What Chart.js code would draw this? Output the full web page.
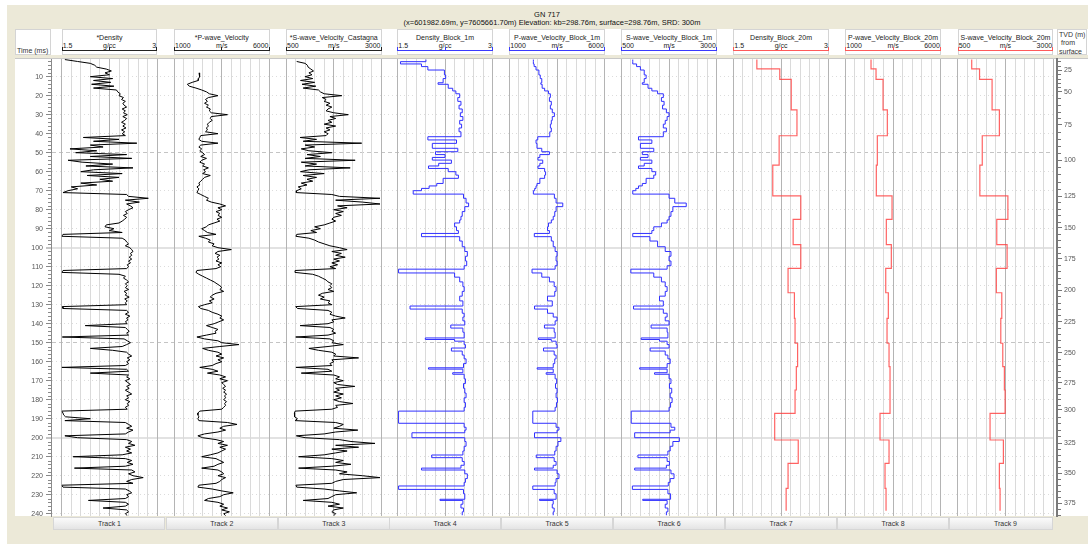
<!DOCTYPE html>
<html>
<head>
<meta charset="utf-8">
<script src="https://cdn.jsdelivr.net/npm/chart.js@4.4.0/dist/chart.umd.min.js"></script>
<style>
  body { margin: 0; width: 1088px; height: 544px; background: #fff; overflow: hidden;
         font-family: "Liberation Sans", Arial, sans-serif; }
  .abs { position: absolute; box-sizing: border-box; }
  .txt { position: absolute; font-size: 7px; line-height: 8px; color: #222; white-space: nowrap; }
  canvas { position: absolute; }
</style>
</head>
<body>
<script>
// ---- data ----
const T_MIN = 0.7, T_MAX = 241.2;
const timeTicks = [10, 20, 30, 40, 50, 60, 70, 80, 90, 100, 110, 120, 130, 140, 150, 160, 170, 180, 190, 200, 210, 220, 230, 240];
const tvdLabels = [25, 50, 75, 100, 125, 150, 175, 200, 225, 250, 275, 300, 325, 350, 375];
const tvdTimes = [6.5, 17.9, 35.4, 53.9, 72.8, 89.6, 105.9, 122.3, 139.0, 155.3, 171.1, 185.4, 202.8, 218.6, 234.5];

// raw logs, one sample per ms from 1 to 241 ms
const rawTimes = [];
for (let t = 1; t <= 241; t++) rawTimes.push(t);

const rawDensity = [
  1.55, 1.75, 1.95, 2.02, 2.05, 2.2, 2.28, 2.18, 2.25, 1.95,
  2.3, 2.0, 2.27, 1.97, 2.32, 2.0, 2.36, 2.38, 2.42, 2.4,
  2.47, 2.44, 2.5, 2.46, 2.48, 2.52, 2.45, 2.5, 2.47, 2.53,
  2.46, 2.52, 2.49, 2.44, 2.5, 2.46, 2.51, 2.44, 2.49, 2.45,
  2.5, 1.84, 2.4, 2.0, 2.68, 1.95, 2.15, 1.63, 2.05, 1.72,
  2.52, 1.95, 2.6, 1.6, 1.82, 2.3, 1.88, 2.62, 2.0, 1.8,
  2.45, 1.9, 2.4, 2.1, 2.3, 1.8, 2.05, 1.65, 1.75, 1.6,
  1.52, 2.52, 2.55, 2.86, 2.5, 2.72, 2.52, 2.58, 2.62, 2.55,
  2.5, 2.53, 2.47, 2.52, 2.49, 2.45, 2.4, 2.2, 2.18, 2.32,
  2.25, 2.45, 1.52, 1.5, 2.45, 2.5, 2.52, 2.55, 2.5, 2.57,
  2.6, 2.62, 2.58, 2.6, 2.56, 2.6, 2.55, 2.58, 2.53, 2.55,
  2.52, 1.52, 1.5, 2.4, 2.5, 2.47, 2.52, 2.55, 2.5, 2.53,
  2.5, 2.55, 2.48, 2.52, 2.5, 2.56, 2.49, 2.53, 2.5, 2.52,
  1.51, 1.52, 2.52, 2.55, 2.5, 2.57, 2.52, 2.54, 2.5, 2.53,
  1.87, 2.5, 2.53, 2.56, 2.52, 2.55, 1.51, 2.48, 2.53, 2.58,
  2.52, 2.45, 1.95, 2.3, 2.52, 2.55, 2.6, 2.53, 2.57, 2.52,
  2.55, 2.5, 1.5, 2.52, 2.55, 1.95, 2.55, 2.52, 2.57, 2.5,
  2.54, 2.58, 2.52, 2.56, 2.5, 2.55, 2.6, 2.52, 2.55, 2.5,
  2.57, 2.53, 2.55, 2.5, 2.53, 1.5, 1.52, 1.53, 1.56, 1.95,
  1.55, 2.5, 2.55, 2.6, 2.52, 2.62, 2.55, 2.5, 1.55, 1.75,
  2.52, 2.6, 2.55, 2.65, 2.5, 2.58, 2.52, 2.6, 2.45, 1.68,
  2.5, 2.6, 2.53, 2.62, 2.5, 1.7, 2.6, 2.65, 2.55, 2.62,
  2.78, 2.6, 2.52, 2.62, 1.5, 1.52, 2.5, 2.56, 2.6, 2.52,
  2.55, 2.5, 1.92, 2.5, 2.55, 2.5, 2.15, 2.52, 2.55, 2.5,
  2.53
];

const rawPwave = [
  null, null, null, null, null, null, null, 2311, 2330, 2350,
  2290, 2270, 1950, 1700, 1800, 2150, 2450, 2700, 2850, 3300,
  2800, 2650, 2750, 2600, 2800, 2700, 2900, 2850, 2950, 3800,
  2950, 2900, 3000, 2850, 2750, 2800, 2700, 2750, 2650, 3300,
  2400, 2350, 2300, 2450, 3300, 2400, 2300, 2450, 2350, 2500,
  2600, 2400, 2700, 2450, 2350, 2600, 2500, 2800, 2550, 2650,
  2500, 2900, 2600, 2500, 2400, 2300, 2350, 2200, 2300, 2250,
  2200, 2400, 2600, 2800, 2700, 2950, 3400, 3700, 3300, 3500,
  3200, 3400, 3300, 3500, 3250, 3400, 3100, 2800, 2700, 2450,
  2600, 2750, 3200, 2300, 2650, 2900, 2800, 3100, 3000, 3300,
  4000, 3300, 3150, 3400, 3250, 3350, 3200, 3500, 3300, 3450,
  3200, 2200, 2150, 2300, 2500, 2700, 2900, 3100, 3250, 3400,
  3500, 3400, 3600, 3200, 3000, 2900, 3100, 2850, 3000, 2600,
  2280, 2400, 2800, 3000, 3300, 3500, 3400, 3600, 3350, 3100,
  2700, 3000, 3300, 3150, 3200, 2700, 2200, 2600, 3300, 3500,
  4400, 3400, 2500, 2800, 3300, 3500, 3200, 3600, 3300, 3500,
  3200, 3000, 2350, 3000, 3300, 2750, 3400, 3700, 3400, 3800,
  3500, 3600, 3700, 3550, 3700, 3600, 3750, 3650, 3700, 3600,
  3750, 3650, 3700, 3600, 3500, 2350, 2250, 2250, 2300, 2250,
  2300, 3800, 4300, 3600, 3400, 3700, 3300, 2600, 2250, 2500,
  3200, 3600, 3300, 3800, 3400, 3700, 3500, 3300, 2900, 2450,
  3200, 3400, 3600, 3300, 3100, 2450, 3300, 3500, 3600, 3300,
  3700, 3500, 3400, 3200, 2300, 2250, 3000, 3500, 4100, 3600,
  3400, 2800, 2600, 3300, 3600, 3400, 3800, 3500, 3900, 3600,
  3700
];

const rawSwave = [
  null, 780, 1000, 1060, 1080, 1150, 1220, 1100, 1180, 1000,
  1200, 880, 1250, 920, 1280, 950, 1350, 1400, 1500, 1960,
  1450, 1550, 1500, 1650, 1550, 1700, 1600, 1550, 1750, 2130,
  1650, 1800, 1600, 1700, 1500, 1800, 1550, 1650, 1500, 1600,
  1550, 870, 1300, 950, 2480, 1000, 1250, 900, 1100, 1700,
  1050, 1400, 1000, 2310, 900, 1300, 1000, 2180, 1100, 880,
  1500, 950, 1300, 1050, 1200, 900, 1050, 820, 900, 780,
  770, 1700, 1900, 2960, 1800, 2500, 2960, 1850, 2100, 1750,
  2000, 1800, 1950, 1750, 1700, 1800, 1650, 1500, 1250, 1400,
  1150, 1300, 780, 760, 1100, 1250, 1350, 1500, 1650, 1900,
  2100, 1700, 1950, 1800, 2050, 1750, 1900, 1700, 1850, 1650,
  1800, 740, 735, 1200, 1350, 1450, 1550, 1600, 1700, 1650,
  1700, 1600, 1750, 1450, 1350, 1500, 1400, 1650, 1600, 1700,
  755, 800, 1600, 1700, 1650, 1800, 2050, 1700, 1750, 1600,
  870, 1650, 1750, 1700, 1800, 1600, 755, 1650, 1750, 1700,
  2000, 1600, 1100, 1350, 1700, 1800, 1750, 2400, 1700, 1750,
  1650, 1700, 760, 1600, 1700, 900, 1750, 1900, 1800, 2000,
  1750, 1850, 2300, 1800, 1900, 1750, 2000, 1800, 1950, 1750,
  1900, 2250, 1800, 1850, 1700, 740, 720, 720, 730, 800,
  740, 1800, 2000, 1900, 1750, 2380, 1800, 1500, 770, 1000,
  1900, 2200, 2830, 1800, 2400, 1700, 2100, 1800, 1500, 830,
  1700, 2000, 1800, 2200, 1700, 830, 1800, 2100, 1900, 2500,
  2960, 2000, 1800, 1700, 760, 780, 1500, 1900, 2350, 1800,
  1700, 1600, 950, 1700, 1900, 1600, 2000, 1750, 1700, 1800,
  1750
];

// 1 m blocks: top time of each block (last entry closes the final block)
const blockTimes1m = [
  1, 2.1, 3.3, 4.7, 6.5, 9.1, 11.0, 13.2, 14.0, 16.1,
  17.5, 19, 21, 23, 25, 27, 29, 31, 33, 35,
  37, 39, 41.6, 43.3, 45.1, 47.7, 49.5, 51, 52.5, 53.9,
  55.6, 57, 58.3, 60, 61.8, 63.5, 66.2, 67.5, 68.8, 70,
  71.8, 74, 76.5, 78.4, 81, 83.5, 85.4, 87, 89, 91,
  92.5, 94.2, 96.5, 99.5, 102, 104.5, 107, 109.5, 111.3, 113.3,
  115.5, 118, 120.5, 123, 125.5, 128, 130.7, 132.3, 134.5, 136.5,
  138.5, 140.7, 142.3, 144.5, 147.5, 148.3, 149.2, 151, 152.8, 154.4,
  156.5, 158.5, 161, 163.2, 163.9, 165.8, 166.6, 169, 171.5, 174,
  176.5, 179, 181.5, 184, 186, 192.4, 194.5, 196, 197.4, 200,
  202, 204.5, 207, 209.1, 210.5, 212.5, 214.5, 216, 217, 219,
  221.5, 223.5, 225.4, 227.2, 229.5, 232.4, 233, 235, 237, 239,
  240.8
];
const density1m = [
  1.95, 1.55, 1.88, 1.98, 2.24, 2.26, 2.22, 2.14, 2.30, 2.37,
  2.42, 2.48, 2.45, 2.50, 2.47, 2.52, 2.49, 2.53, 2.48, 2.51,
  2.47, 2.50, 1.98, 2.43, 2.05, 2.45, 2.10, 2.25, 2.05, 2.35,
  2.15, 1.99, 2.30, 2.42, 2.46, 2.22, 2.12, 2.00, 1.88, 1.75,
  2.54, 2.58, 2.62, 2.56, 2.52, 2.50, 2.48, 2.40, 2.43, 2.46,
  1.88, 2.48, 2.52, 2.56, 2.60, 2.57, 2.59, 2.55, 1.52, 2.40,
  2.48, 2.53, 2.55, 2.52, 2.48, 2.53, 1.70, 2.52, 2.55, 2.53,
  2.56, 2.34, 2.53, 2.55, 1.94, 2.40, 2.55, 2.57, 2.35, 2.52,
  2.55, 2.58, 2.54, 1.99, 2.53, 2.37, 2.55, 2.57, 2.54, 2.56,
  2.58, 2.55, 2.57, 2.55, 1.52, 2.55, 2.58, 2.56, 1.73, 2.56,
  2.58, 2.55, 2.53, 2.04, 2.52, 2.55, 2.50, 1.88, 2.56, 2.60,
  2.57, 2.55, 1.52, 2.54, 2.56, 2.17, 2.53, 2.50, 2.54, 2.52,
  2.52
];
const pwave1m = [
  2260, 2260, 2300, 2400, 2550, 2620, 2700, 2650, 2720, 2850,
  3050, 3150, 3100, 3200, 3150, 3250, 3360, 3250, 3200, 3150,
  3200, 3120, 2490, 2400, 2450, 2700, 3100, 2600, 2500, 2750,
  2600, 2500, 2850, 2900, 2850, 2600, 2450, 2400, 2330, 2260,
  3360, 3450, 3800, 3450, 3380, 3300, 3200, 3050, 3000, 3100,
  2310, 3200, 3300, 3400, 3500, 3450, 3500, 3400, 2190, 2700,
  3100, 3350, 3450, 3380, 3000, 3250, 2320, 3000, 3300, 3500,
  3400, 2840, 3350, 3400, 2530, 3200, 3450, 3500, 2790, 3350,
  3450, 3380, 3300, 2460, 3300, 2930, 3400, 3480, 3420, 3500,
  3450, 3520, 3470, 3400, 2230, 3450, 3600, 3500, 2320, 3700,
  3550, 3450, 3380, 2410, 3350, 3450, 3300, 2320, 3500, 3600,
  3450, 3400, 2230, 3350, 3450, 2580, 3300, 3250, 3350, 3300,
  3300
];
const swave1m = [
  800, 800, 900, 1000, 1100, 1150, 1100, 1050, 1200, 1300,
  1450, 1600, 1550, 1620, 1580, 1680, 1750, 1700, 1650, 1600,
  1680, 1600, 950, 1300, 1000, 1350, 1050, 1200, 1000, 1300,
  1100, 950, 1300, 1400, 1350, 1150, 1050, 950, 880, 800,
  1750, 1900, 2200, 1850, 1800, 1750, 1700, 1550, 1350, 1300,
  800, 1250, 1450, 1650, 1800, 1750, 1800, 1700, 750, 1350,
  1550, 1650, 1700, 1650, 1500, 1600, 820, 1600, 1700, 1650,
  1750, 1280, 1700, 1720, 1020, 1500, 1700, 1750, 1255, 1650,
  1720, 1780, 1700, 980, 1700, 1370, 1750, 1800, 1760, 1820,
  1780, 1830, 1790, 1750, 760, 1800, 1900, 1780, 850, 2020,
  1850, 1780, 1720, 935, 1700, 1760, 1680, 850, 1800, 1880,
  1780, 1730, 790, 1720, 1790, 1060, 1700, 1650, 1720, 1680,
  1680
];

// 20 m blocks
const blockTimes20m = [1, 5.9, 11.4, 27.5, 41.1, 56.5, 72.7, 85.1, 98.4, 110.9, 123.7, 137.2, 150.3, 162.6, 174.9, 187.2, 201.2, 213.5, 226.7, 238.4];
const density20m = [1.87, 2.23, 2.41, 2.50, 2.22, 2.12, 2.56, 2.44, 2.56, 2.36, 2.46, 2.47, 2.51, 2.49, 2.47, 2.15, 2.52, 2.36, 2.33, 2.33];
const pwave20m = [2347, 2609, 2976, 3201, 2677, 2624, 3447, 3148, 3410, 3117, 3253, 3185, 3290, 3342, 3342, 2818, 3290, 3080, 3133, 3133];
const swave20m = [867, 1072, 1400, 1591, 1143, 1080, 1814, 1523, 1793, 1512, 1654, 1628, 1680, 1722, 1741, 1347, 1696, 1591, 1609, 1609];

const trackTitles = ['*Density', '*P-wave_Velocity', '*S-wave_Velocity_Castagna',
  'Density_Block_1m', 'P-wave_Velocity_Block_1m', 'S-wave_Velocity_Block_1m',
  'Density_Block_20m', 'P-wave_Velocity_Block_20m', 'S-wave_Velocity_Block_20m'];
const trackUnits = ['g/cc', 'm/s', 'm/s', 'g/cc', 'm/s', 'm/s', 'g/cc', 'm/s', 'm/s'];
const trackMin = [1.5, 1000, 500, 1.5, 1000, 500, 1.5, 1000, 500];
const trackMax = [3, 6000, 3000, 3, 6000, 3000, 3, 6000, 3000];

const series = [
  { times: rawTimes, values: rawDensity, stepped: false },
  { times: rawTimes, values: rawPwave, stepped: false },
  { times: rawTimes, values: rawSwave, stepped: false },
  { times: blockTimes1m, values: density1m, stepped: 'after' },
  { times: blockTimes1m, values: pwave1m, stepped: 'after' },
  { times: blockTimes1m, values: swave1m, stepped: 'after' },
  { times: blockTimes20m, values: density20m, stepped: 'after' },
  { times: blockTimes20m, values: pwave20m, stepped: 'after' },
  { times: blockTimes20m, values: swave20m, stepped: 'after' }
];

// ---- layout / style ----
const trackLeft = [61.7, 174, 286, 397.3, 509.3, 621.3, 733.3, 845.3, 957.7];
const trackW = 95.5;
const lineColor = ['#000', '#000', '#000', '#3030ff', '#3030ff', '#3030ff', 'rgba(255,60,60,0.8)', 'rgba(255,60,60,0.8)', 'rgba(255,60,60,0.8)'];
const bracketColor = ['#222', '#222', '#222', '#3a3aff', '#3a3aff', '#3a3aff', '#ff5a5a', '#ff5a5a', '#ff5a5a'];
const lineWidth = [1, 1, 1, 1, 1, 1, 1.2, 1.2, 1.2];

Chart.defaults.font.family = '"Liberation Sans", Arial, sans-serif';
Chart.defaults.font.size = 7;

function box(x, y, w, h, css) {
  const d = document.createElement('div');
  d.className = 'abs';
  d.style.cssText += `left:${x}px;top:${y}px;width:${w}px;height:${h}px;` + (css || '');
  document.body.appendChild(d);
  return d;
}
function text(str, x, y, w, align, css) {
  const d = document.createElement('div');
  d.className = 'txt';
  d.textContent = str;
  d.style.cssText += `left:${x}px;top:${y}px;` + (w ? `width:${w}px;` : '') + `text-align:${align || 'left'};` + (css || '');
  document.body.appendChild(d);
  return d;
}
function canvas(x, y, w, h) {
  const c = document.createElement('canvas');
  c.width = w; c.height = h;
  c.style.left = x + 'px'; c.style.top = y + 'px';
  c.style.width = w + 'px'; c.style.height = h + 'px';
  document.body.appendChild(c);
  return c;
}

// frame and panels
box(7, 5, 1081, 539, 'background:#ece9d8;');
text('GN 717', 447, 11, 200, 'center', 'font-size:7.5px;color:#111;');
text('(x=601982.69m, y=7605661.70m) Elevation: kb=298.76m, surface=298.76m, SRD: 300m', 352, 19, 400, 'center', 'font-size:7.5px;color:#111;');
box(15, 29, 1073, 26, 'background:#fff;');
box(15, 58, 1073, 458, 'background:#fff;border-top:1px solid #c8c8c8;');
box(15, 29, 36, 26, 'border:1px solid #d4d4d4;');
text('Time (ms)', 17, 46.5, 0, 'left', 'color:#333;');
box(1057, 29, 30, 26, 'border:1px solid #d4d4d4;');
text('TVD (m)', 1059, 31, 0, 'left', 'color:#333;');
text('from', 1061, 39.3, 0, 'left', 'color:#333;');
text('surface', 1059, 47.7, 0, 'left', 'color:#333;');

trackLeft.forEach((L, i) => {
  box(L, 29, trackW, 26, 'border:1px solid #d4d4d4;');
  text(trackTitles[i], L, 33.5, trackW, 'center');
  text(String(trackMin[i]), L + 1, 41.5, 0, 'left');
  text(trackUnits[i], L, 41.5, trackW, 'center');
  text(String(trackMax[i]), L, 41.5, trackW - 1, 'right');
  const c = bracketColor[i];
  box(L, 47.3, trackW, 3.5, `border:1px solid ${c};border-top:none;`);
  box(L + trackW / 2 - 0.5, 47.3, 1, 3, `background:${c};`);
  // bottom label box
  const bx = L - 8.4;
  const bw = i === 8 ? trackW + 8.4 : 112;
  box(bx, 517, bw, 13, 'background:linear-gradient(#fbfbfb,#e4e4e4);border:1px solid #d6d6d6;');
  text('Track ' + (i + 1), L, 520, trackW, 'center', 'color:#333;');
});

function minorTicks(values, side, len, color) {
  return {
    id: 'minorTicks',
    afterDraw(chart) {
      const s = chart.scales.y, c = chart.ctx;
      const x0 = side === 'left' ? s.right : s.left + 1;
      c.save();
      c.strokeStyle = color; c.lineWidth = 1;
      c.beginPath();
      values.forEach(v => {
        const y = Math.round(s.getPixelForValue(v)) + 0.5;
        c.moveTo(x0, y);
        c.lineTo(side === 'left' ? x0 - len : x0 + len, y);
      });
      c.stroke();
      c.restore();
    }
  };
}

// time axis + horizontal grid across all tracks
const timeMinor = [];
for (let v = 2; v < 241; v += 2) if (v % 10 !== 0) timeMinor.push(v);
new Chart(canvas(15, 49, 1040, 477), {
  type: 'line',
  data: { datasets: [] },
  plugins: [minorTicks(timeMinor, 'left', 3, '#8a8a8a')],
  options: {
    responsive: false, animation: false, events: [],
    layout: { padding: { top: 10, bottom: 10, left: 0, right: 1.8 } },
    plugins: { legend: { display: false }, tooltip: { enabled: false } },
    scales: {
      x: { type: 'linear', display: false },
      y: {
        type: 'linear', position: 'left', reverse: true, min: T_MIN, max: T_MAX,
        afterBuildTicks: s => { s.ticks = timeTicks.map(v => ({ value: v })); },
        afterFit: s => { s.width = 36; s.paddingTop = 0; s.paddingBottom = 0; },
        ticks: { autoSkip: false, color: '#555', padding: 3, font: { size: 7 } },
        grid: {
          color: c => c.tick && c.tick.value % 100 === 0 ? '#e2e2e2' : (c.tick && c.tick.value % 50 === 0 ? '#c4c4c4' : '#dcdcdc'),
          lineWidth: c => c.tick && c.tick.value % 100 === 0 ? 2 : 1,
          tickLength: 5, tickColor: '#888', tickWidth: 1
        },
        border: {
          color: '#8a8a8a', width: 1,
          dash: c => !c.tick || c.tick.value % 100 === 0 ? [] : (c.tick.value % 50 === 0 ? [4, 3] : [1, 3])
        }
      }
    }
  }
});

// TVD axis on the right
const tvdMinor = [];
for (let k = 0; k < tvdTimes.length - 1; k++) {
  const a = tvdTimes[k], b = tvdTimes[k + 1];
  for (let f = 1; f < 5; f++) tvdMinor.push(a + (b - a) * f / 5);
}
[1, 2, 3].forEach(f => tvdMinor.push(tvdTimes[0] - (tvdTimes[1] - tvdTimes[0]) * f / 5));
[1, 2, 3].forEach(f => { const n = tvdTimes.length; tvdMinor.push(tvdTimes[n - 1] + (tvdTimes[n - 1] - tvdTimes[n - 2]) * f / 5); });
new Chart(canvas(1053, 49, 35, 477), {
  type: 'line',
  data: { datasets: [] },
  plugins: [minorTicks(tvdMinor.filter(v => v > T_MIN && v < T_MAX), 'right', 3, '#777')],
  options: {
    responsive: false, animation: false, events: [],
    layout: { padding: { top: 10, bottom: 10, left: 0, right: 0 } },
    plugins: { legend: { display: false }, tooltip: { enabled: false } },
    scales: {
      x: { type: 'linear', display: false },
      y: {
        type: 'linear', position: 'right', reverse: true, min: T_MIN, max: T_MAX,
        afterBuildTicks: s => { s.ticks = tvdTimes.map(v => ({ value: v })); },
        afterFit: s => { s.width = 31; s.paddingTop = 0; s.paddingBottom = 0; },
        ticks: { autoSkip: false, color: '#555', padding: 2, font: { size: 7 },
                 callback: (v, i) => String(tvdLabels[i]) },
        grid: { drawOnChartArea: false, tickLength: 5, tickColor: '#777' },
        border: { color: '#7a7a7a', width: 2 }
      }
    }
  }
});

// the nine tracks
trackLeft.forEach((L, i) => {
  const x0 = Math.floor(L) - 2;
  const min = trackMin[i], max = trackMax[i];
  const s = series[i];
  const pts = s.times.map((t, k) => ({ x: s.values[k], y: t }));
  new Chart(canvas(x0, 57, 100, 461), {
    type: 'line',
    data: {
      datasets: [{
        data: pts,
        borderColor: lineColor[i],
        borderWidth: lineWidth[i],
        pointRadius: 0,
        fill: false,
        tension: 0,
        stepped: s.stepped
      }]
    },
    options: {
      indexAxis: 'y',
      responsive: false, animation: false, events: [],
      layout: { padding: { left: L - x0, right: x0 + 100 - L - trackW, top: 2, bottom: 2 } },
      plugins: { legend: { display: false }, tooltip: { enabled: false } },
      scales: {
        x: {
          type: 'linear', min: min, max: max,
          afterBuildTicks: sc => {
            const t = [];
            for (let k = 0; k <= 10; k++) t.push({ value: min + (max - min) * k / 10 });
            sc.ticks = t;
          },
          ticks: { display: false },
          grid: {
            drawTicks: false,
            color: c => (c.index === 0 || c.index === 5 || c.index === 10) ? '#b4b4b4' : '#dadada'
          },
          border: { display: false }
        },
        y: { type: 'linear', display: false, reverse: true, min: T_MIN, max: T_MAX }
      }
    }
  });
});
</script>
</body>
</html>
